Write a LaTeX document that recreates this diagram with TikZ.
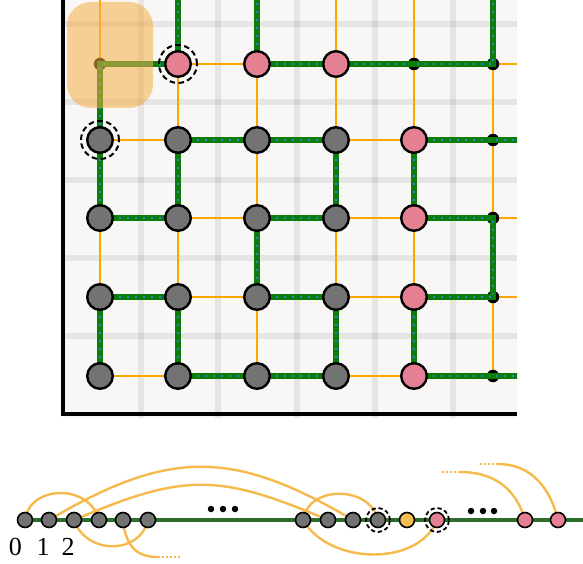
\documentclass[tikz,border=0pt]{standalone}
\usepackage{fontspec}
\setmainfont{Liberation Serif}
\pgfdeclarelayer{panel}
\pgfdeclarelayer{orangel}
\pgfdeclarelayer{greenl}
\pgfdeclarelayer{topl}
\pgfsetlayers{panel,orangel,greenl,main,topl}
\definecolor{gnode}{RGB}{115,115,115}
\definecolor{pnode}{RGB}{229,127,146}
\definecolor{onode}{RGB}{247,190,80}
\definecolor{gline}{RGB}{10,125,10}
\definecolor{bdot}{RGB}{40,130,215}
\definecolor{oline}{RGB}{255,165,0}
\definecolor{arcc}{RGB}{246,185,75}
\definecolor{bline}{RGB}{45,110,45}
\definecolor{panelbg}{RGB}{249,246,246}
\definecolor{hl}{RGB}{245,175,70}
\begin{document}
\begin{tikzpicture}[x=1pt,y=-1pt,
  big/.style={circle, draw=black, line width=2.4pt, minimum size=25.6pt, inner sep=0pt},
  gbig/.style={big, fill=gnode},
  pbig/.style={big, fill=pnode},
  tinyn/.style={circle, fill=black, minimum size=12.5pt, inner sep=0pt},
  ringbig/.style={circle, draw=black, line width=2pt, minimum size=38pt, inner sep=0pt, dash pattern=on 5.5pt off 3.5pt},
  small/.style={circle, draw=black, line width=1.6pt, minimum size=15pt, inner sep=0pt},
  sgray/.style={small, fill=gnode},
  spink/.style={small, fill=pnode},
  sorange/.style={small, fill=onode},
  ringsmall/.style={circle, draw=black, line width=1.8pt, minimum size=24pt, inner sep=0pt, dash pattern=on 4.2pt off 2.8pt},
  dotn/.style={circle, fill=black, minimum size=6.5pt, inner sep=0pt},
  band/.style={draw=black, draw opacity=0.07, line width=6.5pt},
  oedge/.style={draw=oline, line width=1.8pt},
  gedge/.style={draw=gline, line width=6pt, line cap=rect,
     postaction={draw=bdot, line width=2.3pt, line cap=butt, dash pattern=on 2.3pt off 5.7pt, dash phase=-3pt}},
  arcl/.style={draw=arcc, line width=2.4pt},
  arcdots/.style={draw=arcc, line width=2.4pt, dash pattern=on 2pt off 2pt},
  numlab/.style={anchor=base, inner sep=0pt, font=\fontsize{26}{26}\selectfont}
]
\useasboundingbox (0,0) rectangle (583,564);

% ---------- panel ----------
\begin{pgfonlayer}{panel}
\fill[panelbg] (63,0) rectangle (517,418);
\foreach \x in {141,218,297,375,453} \draw[band] (\x,0) -- (\x,418);
\foreach \y in {24,102,180,258,336} \draw[band] (63,\y) -- (517,\y);
\draw[line width=3.5pt] (63,0) -- (63,414) -- (517,414);
\end{pgfonlayer}

% ---------- boundary coordinates ----------
\foreach \c/\x in {0/100,1/178,2/257,3/336,4/414,5/493} \coordinate (t\c) at (\x,0);
\foreach \r/\y in {0/64,1/140,2/218,3/297,4/376} \coordinate (e\r) at (517,\y);

% ---------- big nodes ----------
\node[pbig] (g10) at (178,64) {};
\node[pbig] (g20) at (257,64) {};
\node[pbig] (g30) at (336,64) {};
\foreach \c/\x in {0/100,1/178,2/257,3/336}
  \foreach \r/\y in {1/140,2/218,3/297,4/376}
    \node[gbig] (g\c\r) at (\x,\y) {};
\foreach \r/\y in {1/140,2/218,3/297,4/376}
  \node[pbig] (g4\r) at (414,\y) {};
\node[ringbig] (ring10) at (g10) {};
\node[ringbig] (ring01) at (g01) {};

% ---------- tiny nodes and green edges ----------
\begin{pgfonlayer}{greenl}
\node[tinyn] (g00) at (100,64) {};
\node[tinyn] (g40) at (414,64) {};
\foreach \r/\y in {0/64,1/140,2/218,3/297,4/376}
  \node[tinyn] (g5\r) at (493,\y) {};
\begin{scope}
\clip (65,0) rectangle (517,412);
\foreach \a/\b in {t1/g10,t2/g20,t5/g50,
   g00/g10,g20/g30,g30/g40,g40/g50,
   g00/g01,
   g11/g21,g21/g31,g41/g51,g51/e1,
   g01/g02,g11/g12,g31/g32,g41/g42,
   g02/g12,g22/g32,g42/g52,
   g22/g23,g52/g53,
   g03/g13,g23/g33,g43/g53,
   g03/g04,g13/g14,g33/g34,g43/g44,
   g14/g24,g24/g34,g44/g54,g54/e4}
  \draw[gedge] (\a.center) -- (\b.center);
\end{scope}
\end{pgfonlayer}

% ---------- orange grid edges ----------
\begin{pgfonlayer}{orangel}
\foreach \c in {0,...,5}
  \draw[oedge] (t\c) -- (g\c0.center) -- (g\c1.center) -- (g\c2.center) -- (g\c3.center) -- (g\c4.center);
\foreach \r in {0,...,4}
  \draw[oedge] (g0\r.center) -- (g1\r.center) -- (g2\r.center) -- (g3\r.center) -- (g4\r.center) -- (g5\r.center) -- (e\r);
\end{pgfonlayer}

% ---------- highlight ----------
\begin{pgfonlayer}{topl}
\fill[hl, opacity=0.55, rounded corners=24pt] (67,2) rectangle (153,108);
\end{pgfonlayer}

% ---------- bottom strip ----------
\coordinate (lineL) at (18,520);
\coordinate (lineR) at (583,520);
\foreach \i/\x in {0/25,1/49,2/74,3/99,4/123,5/148}
  \node[sgray] (b\i) at (\x,520) {};
\foreach \i/\x in {0/303,1/328,2/353,3/378}
  \node[sgray] (m\i) at (\x,520) {};
\node[sorange] (m4) at (407,520) {};
\node[spink] (m5) at (437,520) {};
\node[spink] (p1) at (525,520) {};
\node[spink] (p2) at (558,520) {};
\node[ringsmall] (rm3) at (m3) {};
\node[ringsmall] (rm5) at (m5) {};

\node[dotn] (d1) at (211,509) {};
\node[dotn] (d2) at (223,509) {};
\node[dotn] (d3) at (235,509) {};
\node[dotn] (d4) at (471,511) {};
\node[dotn] (d5) at (483,511) {};
\node[dotn] (d6) at (494,511) {};

\node[numlab] (l0) at (15.5,555) {0};
\node[numlab] (l1) at (43,555) {1};
\node[numlab] (l2) at (68,555) {2};

\coordinate (q1) at (158,557);
\coordinate (q1e) at (181,557);
\coordinate (q2) at (460,472);
\coordinate (q2e) at (440,472);
\coordinate (q3) at (498,464);
\coordinate (q3e) at (478,464);

\begin{pgfonlayer}{orangel}
\draw[draw=bline, line width=4pt] (lineL) -- (lineR);
\draw[arcl] (b0.center) .. controls (30,484) and (90,484) .. (b3.center);
\draw[arcl] (m0.center) .. controls (308,485) and (370,485) .. (m3.center);
\draw[arcl] (b1.center) .. controls (169,449) and (233,449) .. (m2.center);
\draw[arcl] (b2.center) .. controls (184,473) and (218,473) .. (m1.center);
\draw[arcl] (b2.center) .. controls (86,555) and (140,555) .. (b5.center);
\draw[arcl] (b4.center) .. controls (126,550) and (140,557) .. (q1);
\draw[arcdots] (q1) -- (q1e);
\draw[arcl] (m0.center) .. controls (330,566) and (420,566) .. (m5.center);
\draw[arcl] (p1.center) .. controls (515,485) and (490,472) .. (q2);
\draw[arcdots] (q2) -- (q2e);
\draw[arcl] (p2.center) .. controls (548,480) and (525,464) .. (q3);
\draw[arcdots] (q3) -- (q3e);
\end{pgfonlayer}
\end{tikzpicture}
\end{document}
